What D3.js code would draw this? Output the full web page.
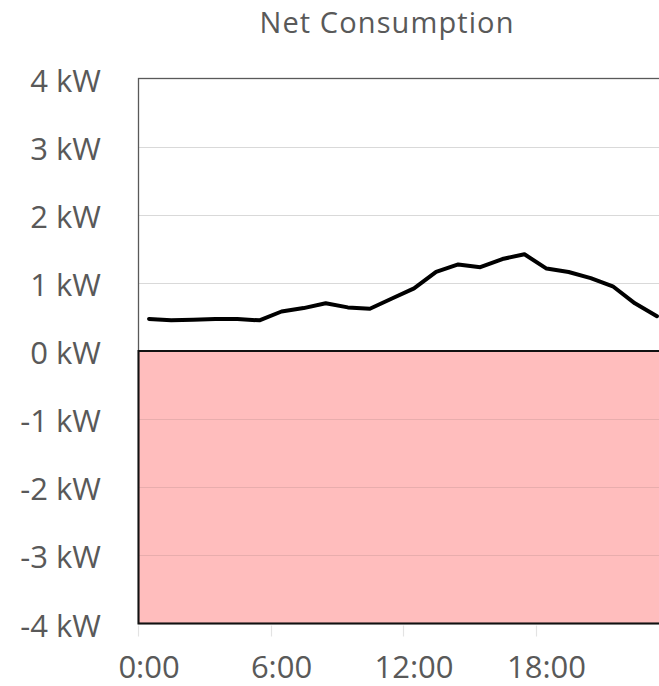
<!DOCTYPE html>
<html>
<head>
<meta charset="utf-8">
<script src="https://cdn.jsdelivr.net/npm/d3@7"></script>
<style>
body { margin: 0; background: #fff; }
svg text { font-family: "Open Sans", sans-serif; fill: #595959; }
</style>
</head>
<body>
<div id="diagram"></div>
<script>
// hourly net consumption (kW), one point per hour
var hours = ["0:00","1:00","2:00","3:00","4:00","5:00","6:00","7:00","8:00","9:00","10:00","11:00",
             "12:00","13:00","14:00","15:00","16:00","17:00","18:00","19:00","20:00","21:00","22:00","23:00"];
var netKw = [0.47, 0.45, 0.46, 0.47, 0.47, 0.45, 0.58, 0.63, 0.70, 0.64, 0.62, 0.77,
             0.92, 1.16, 1.27, 1.23, 1.35, 1.42, 1.21, 1.16, 1.07, 0.95, 0.70, 0.51];
var yTicks = [-4, -3, -2, -1, 0, 1, 2, 3, 4];
var xLabels = ["0:00", "6:00", "12:00", "18:00"];
var chartTitle = "Net Consumption";

var width = 659, height = 686;
var margin = {top: 78.5, right: -9, bottom: 63, left: 138};

var svg = d3.select("#diagram").append("svg")
    .attr("width", width)
    .attr("height", height);

var x_scale = d3.scaleBand()
    .domain(hours)
    .range([margin.left, width - margin.right])
    .paddingInner(0)
    .paddingOuter(0);

var y_scale = d3.scaleLinear()
    .domain([-4, 4])
    .range([height - margin.bottom + 0.5, margin.top]);

var left = margin.left, right = width - margin.right;

// negative zone
svg.append("rect")
    .attr("x", left)
    .attr("y", y_scale(0))
    .attr("width", right - left)
    .attr("height", y_scale(-4) - y_scale(0))
    .attr("fill", "#ffbdbd");

// gridlines
svg.append("g")
    .selectAll("line")
    .data(yTicks.filter(function(d) { return d != 0 && d != -4 && d != 4; }))
    .enter().append("line")
    .attr("x1", left)
    .attr("x2", right)
    .attr("y1", function(d) { return Math.round(y_scale(d)) + 0.5; })
    .attr("y2", function(d) { return Math.round(y_scale(d)) + 0.5; })
    .attr("stroke", function(d) { return d < 0 ? "#e8adad" : "#d9d9d9"; })
    .attr("stroke-width", 1.2);

// plot border
svg.append("rect")
    .attr("x", left + 0.5)
    .attr("y", y_scale(4))
    .attr("width", right - left)
    .attr("height", y_scale(-4) - y_scale(4))
    .attr("fill", "none")
    .attr("stroke", "#595959")
    .attr("stroke-width", 1.3);

// border of the negative zone
svg.append("rect")
    .attr("x", left + 0.5)
    .attr("y", y_scale(0))
    .attr("width", right - left)
    .attr("height", y_scale(-4) - y_scale(0))
    .attr("fill", "none")
    .attr("stroke", "#111")
    .attr("stroke-width", 2);

// x tick marks between categories
svg.append("g")
    .selectAll("line")
    .data(xLabels)
    .enter().append("line")
    .attr("x1", function(d) { return Math.round(x_scale(d)) + 0.5; })
    .attr("x2", function(d) { return Math.round(x_scale(d)) + 0.5; })
    .attr("y1", y_scale(-4) + 2)
    .attr("y2", y_scale(-4) + 13)
    .attr("stroke", "#e3e3e3")
    .attr("stroke-width", 1.2);

// x labels
svg.append("g")
    .selectAll("text")
    .data(xLabels)
    .enter().append("text")
    .attr("x", function(d) { return x_scale(d) + x_scale.bandwidth() / 2; })
    .attr("y", 678)
    .attr("text-anchor", "middle")
    .style("font-size", "31px")
    .text(function(d) { return d; });

// y labels
svg.append("g")
    .selectAll("text")
    .data(yTicks)
    .enter().append("text")
    .attr("x", 101)
    .attr("y", function(d) { return y_scale(d) + 13; })
    .attr("text-anchor", "end")
    .style("font-size", "31px")
    .text(function(d) { return d + " kW"; });

// the line
var draw_line = d3.line()
    .x(function(d, i) { return x_scale(hours[i]) + x_scale.bandwidth() / 2; })
    .y(function(d) { return y_scale(d); });

svg.append("path")
    .datum(netKw)
    .attr("d", draw_line)
    .attr("fill", "none")
    .attr("stroke", "#000")
    .attr("stroke-width", 4)
    .attr("stroke-linejoin", "round")
    .attr("stroke-linecap", "round");

// title
svg.append("text")
    .attr("x", 387)
    .attr("y", 33)
    .attr("text-anchor", "middle")
    .style("font-size", "29px")
    .style("letter-spacing", "1.1px")
    .text(chartTitle);
</script>
</body>
</html>
